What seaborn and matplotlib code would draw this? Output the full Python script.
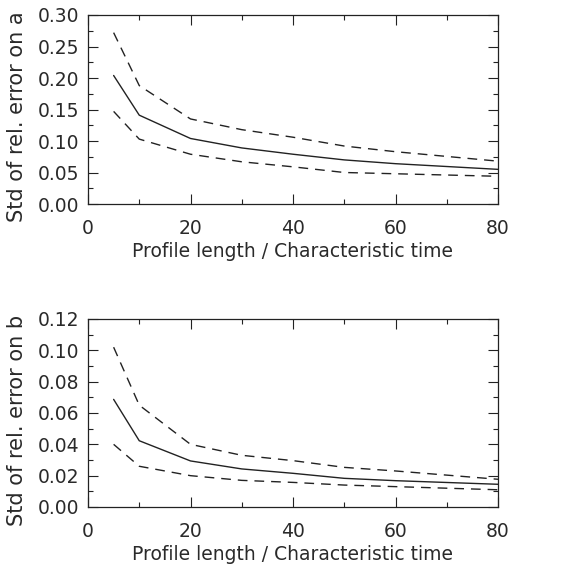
import numpy as np
import pandas as pd
import matplotlib
matplotlib.use("Agg")
import matplotlib.pyplot as plt
import seaborn as sns
from matplotlib.ticker import MultipleLocator

sns.set_theme(style="ticks")
plt.rcParams['font.family'] = ['DejaVu Sans']

x = [5, 10, 20, 30, 40, 50, 60, 80]
a_mean = [0.204, 0.141, 0.104, 0.089, 0.079, 0.070, 0.064, 0.055]
a_upper = [0.272, 0.188, 0.135, 0.118, 0.106, 0.092, 0.083, 0.068]
a_lower = [0.147, 0.103, 0.079, 0.067, 0.059, 0.050, 0.048, 0.044]
b_mean = [0.0687, 0.0423, 0.0294, 0.0243, 0.0215, 0.0183, 0.0168, 0.0145]
b_upper = [0.102, 0.065, 0.040, 0.033, 0.0296, 0.0253, 0.023, 0.0177]
b_lower = [0.040, 0.026, 0.020, 0.017, 0.0157, 0.014, 0.013, 0.011]

xlabel = "Profile length / Characteristic time"
ylabels = ["Std of rel. error on a", "Std of rel. error on b"]

fig = plt.figure(figsize=(5.73, 5.69), dpi=100)
W, H = 573, 569
axa = fig.add_axes([88 / W, 1 - 204 / H, 410 / W, 189 / H])
axb = fig.add_axes([88 / W, 1 - 507 / H, 410 / W, 188 / H])

color = "#222222"
panels = [
    (axa, a_mean, a_upper, a_lower, ylabels[0], 0.30, 0.05, 0.025),
    (axb, b_mean, b_upper, b_lower, ylabels[1], 0.12, 0.02, 0.01),
]
for ax, m, u, l, yl, ymax, maj, mnr in panels:
    df = pd.DataFrame({"x": x * 3, "y": m + u + l,
                       "s": ["mean"] * len(x) + ["upper"] * len(x) + ["lower"] * len(x)})
    sns.lineplot(data=df, x="x", y="y", units="s", estimator=None, ax=ax,
                 color=color, lw=1.0, style="s",
                 dashes={"mean": "", "upper": (7, 5), "lower": (7, 5)},
                 legend=False)
    ax.set_xlim(0, 80)
    ax.set_ylim(0, ymax)
    ax.xaxis.set_major_locator(MultipleLocator(20))
    ax.xaxis.set_minor_locator(MultipleLocator(10))
    ax.yaxis.set_major_locator(MultipleLocator(maj))
    ax.yaxis.set_minor_locator(MultipleLocator(mnr))
    ax.yaxis.set_major_formatter(matplotlib.ticker.FormatStrFormatter("%.2f"))
    ax.tick_params(which="both", direction="in", top=True, right=True,
                   color=color, width=0.8, labelsize=13.5, labelcolor="#2a2a2a")
    ax.tick_params(which="major", length=7)
    ax.tick_params(axis="x", which="major", pad=11)
    ax.tick_params(axis="y", which="major", pad=6)
    ax.tick_params(which="minor", length=3.5)
    for sp in ax.spines.values():
        sp.set_color(color)
        sp.set_linewidth(0.9)
    ax.set_xlabel(xlabel, fontsize=13.5, color="#2a2a2a", labelpad=3)
    ax.set_ylabel(yl, fontsize=15, color="#2a2a2a")
    ax.yaxis.set_label_coords(-0.149, 0.46)

fig.savefig("out.png", dpi=100, facecolor="white")
